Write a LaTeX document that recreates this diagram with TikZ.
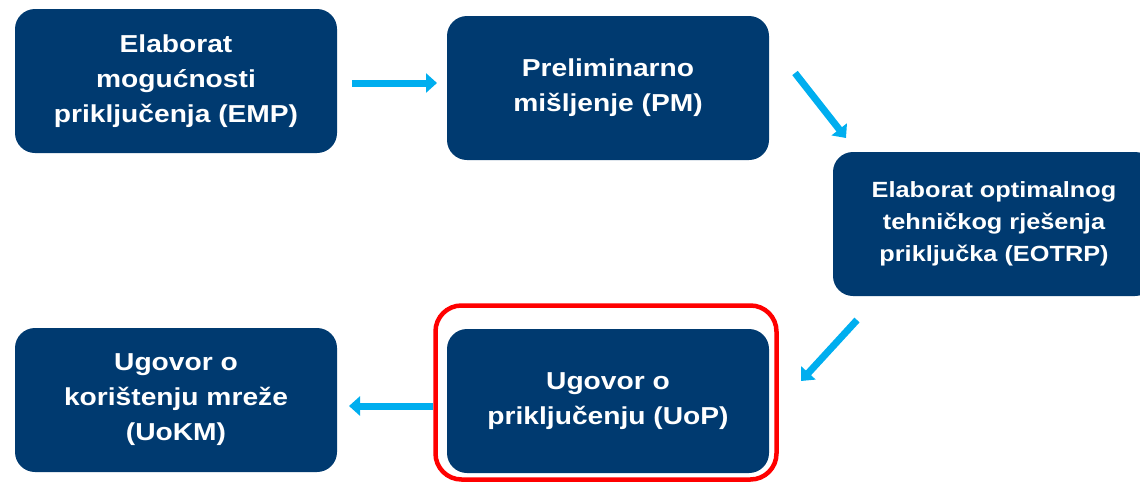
\documentclass[tikz,border=0pt]{standalone}
\usepackage{fontspec}
\usetikzlibrary{arrows.meta}
\newfontfamily\boxfont{Liberation Sans}[FakeStretch=1.15]
\definecolor{navy}{HTML}{003A70}
\definecolor{flowblue}{HTML}{00AEEF}
\definecolor{hlred}{HTML}{FF0000}
\tikzset{
  stage/.style={fill=navy, rounded corners=20pt, minimum width=322pt, minimum height=144pt,
    inner sep=0pt, text=white, align=center, font=\boxfont\bfseries\fontsize{24.5}{35}\selectfont},
  flow/.style={draw=flowblue, line width=7pt, -{Triangle[length=11pt,width=19pt]}},
  highlight/.style={draw=hlred, line width=4.5pt, rounded corners=26pt}
}
\begin{document}
\begin{tikzpicture}[x=1pt,y=-1pt]
			\useasboundingbox (0,0) rectangle (1140,482);
			\node[stage] (emp) at (176,81) {Elaborat\\mogućnosti\\priključenja (EMP)};
			\node[stage] (pm) at (608,88) {Preliminarno\\mišljenje (PM)};
			\node[stage, font=\boxfont\bfseries\fontsize{22}{32}\selectfont] (eotrp) at (994,224) {Elaborat optimalnog\\tehničkog rješenja\\priključka (EOTRP)};
			\node[stage] (uop) at (608,401) {Ugovor o\\priključenju (UoP)};
			\node[stage] (uokm) at (176,400) {Ugovor o\\korištenju mreže\\(UoKM)};
			% istaknuti korak
			\draw[highlight] (435.5,305.5) rectangle (776.5,479.5);
			% strelice
			\coordinate (empout) at (352,83);
			\coordinate (pmin) at (437,83);
			\coordinate (pmout) at (795,73);
			\coordinate (eotrpin) at (846,138);
			\coordinate (eotrpout) at (857,320);
			\coordinate (uopin) at (801,381);
			\coordinate (uopout) at (433,406);
			\coordinate (uokmin) at (349,406);
			\draw[flow] (empout) -- (pmin);
			\draw[flow] (pmout) -- (eotrpin);
			\draw[flow] (eotrpout) -- (uopin);
			\draw[flow] (uopout) -- (uokmin);
		\end{tikzpicture}
\end{document}
